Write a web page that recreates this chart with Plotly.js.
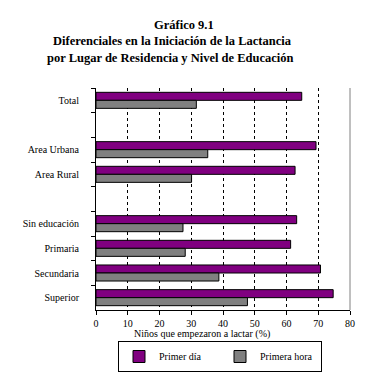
<!DOCTYPE html>
<html>
<head>
<meta charset="utf-8">
<script src="https://cdn.plot.ly/plotly-3.0.1.min.js"></script>
<style>html,body{margin:0;padding:0;background:#fff;}#chart{width:365px;height:374px;}</style>
</head>
<body>
<div id="chart"></div>
<script>
var categories = ["Total", " ", "Area Urbana", "Area Rural", "  ", "Sin educación", "Primaria", "Secundaria", "Superior"];
var primerDia = [64.8, null, 69.3, 62.7, null, 63.2, 61.3, 70.7, 74.7];
var primeraHora = [31.6, null, 35.2, 30.1, null, 27.4, 28.1, 38.7, 47.7];
var seriesNames = ["Primer día", "Primera hora"];
var xTicks = [0, 10, 20, 30, 40, 50, 60, 70, 80];
var titleLines = ["Gráfico 9.1", "Diferenciales en la Iniciación de la Lactancia", "por Lugar de Residencia y Nivel de Educación"];
var xTitle = "Niños que empezaron a lactar (%)";

var serif = "Liberation Serif, Times New Roman, serif";
var traces = [
  {type: "bar", orientation: "h", name: seriesNames[0], y: categories, x: primerDia,
   marker: {color: "#800080", line: {color: "#000", width: 1}}},
  {type: "bar", orientation: "h", name: seriesNames[1], y: categories, x: primeraHora,
   marker: {color: "#808080", line: {color: "#000", width: 1}}}
];
var layout = {
  width: 365, height: 374,
  margin: {l: 96, r: 15, t: 88, b: 64, autoexpand: false},
  paper_bgcolor: "#fff", plot_bgcolor: "#fff",
  font: {family: serif, size: 10, color: "#000"},
  barmode: "group", bargap: 0.35, bargroupgap: 0,
  showlegend: true,
  legend: {orientation: "h", xref: "container", yref: "container",
           x: 118 / 365, y: 2 / 374, xanchor: "left", yanchor: "bottom",
           bordercolor: "#000", borderwidth: 1, bgcolor: "#fff",
           font: {family: serif, size: 10}, itemwidth: 30, traceorder: "normal",
           entrywidth: 56, tracegroupgap: 0, valign: "middle"},
  xaxis: {range: [0, 80], tickvals: xTicks, ticktext: xTicks.map(String),
          showgrid: true, gridcolor: "#000", griddash: "3px,3px", gridwidth: 1,
          showline: true, linecolor: "#000", linewidth: 1, zeroline: false,
          ticks: "outside", ticklen: 4, tickcolor: "#000",
          tickfont: {family: serif, size: 10}, fixedrange: true},
  yaxis: {type: "category", categoryorder: "array", categoryarray: categories,
          autorange: "reversed", showgrid: false, zeroline: false,
          showline: true, linecolor: "#000", linewidth: 1,
          ticks: "outside", tickson: "boundaries", ticklen: 4, tickcolor: "#000",
          tickfont: {family: serif, size: 10}, ticklabelstandoff: 14, fixedrange: true},
  shapes: [{type: "line", xref: "paper", yref: "paper", x0: 1, x1: 1, y0: 0, y1: 1,
            line: {color: "#808080", width: 1}}],
  annotations: [
    {text: "<b>" + titleLines[0] + "</b>", xref: "paper", yref: "paper", x: 0.346, y: 1.285,
     showarrow: false, xanchor: "center", yanchor: "middle", font: {family: serif, size: 12.5}},
    {text: "<b>" + titleLines[1] + "</b>", xref: "paper", yref: "paper", x: 0.303, y: 1.21,
     showarrow: false, xanchor: "center", yanchor: "middle", font: {family: serif, size: 12.5}},
    {text: "<b>" + titleLines[2] + "</b>", xref: "paper", yref: "paper", x: 0.291, y: 1.136,
     showarrow: false, xanchor: "center", yanchor: "middle", font: {family: serif, size: 12.5}},
    {text: xTitle, xref: "paper", yref: "paper", x: 0.419, y: -0.108,
     showarrow: false, xanchor: "center", yanchor: "middle", font: {family: serif, size: 10}}
  ]
};
Plotly.newPlot("chart", traces, layout, {displayModeBar: false, staticPlot: true});
</script>
</body>
</html>
